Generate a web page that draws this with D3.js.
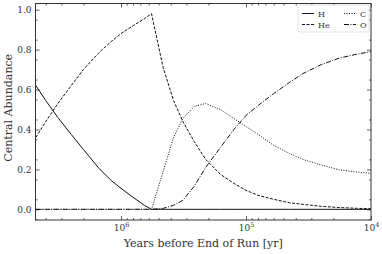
<!DOCTYPE html>
<html>
<head>
<meta charset="utf-8">
<script src="https://cdn.jsdelivr.net/npm/d3@7"></script>
<style>
  html, body { margin: 0; padding: 0; background: #fff; }
  svg text { font-family: "DejaVu Serif", "Liberation Serif", serif; }
</style>
</head>
<body>
<div id="chart"></div>
<script>
// Data (years before end of run, central abundances)
const years = [4.8e6, 4.0e6, 3.2e6, 2.5e6, 2.0e6, 1.5e6, 1.2e6, 1.0e6, 8.0e5, 6.5e5, 5.7e5,
  4.6e5, 3.8e5, 3.2e5, 2.6e5, 2.1e5, 1.6e5, 1.25e5, 1.0e5, 8.0e4, 6.0e4, 4.5e4, 3.5e4,
  2.5e4, 1.8e4, 1.3e4, 1.0e4]
const hydrogen = [0.62, 0.545, 0.46, 0.375, 0.30, 0.205, 0.145, 0.105, 0.06, 0.02, 0,
  0, 0, 0, 0, 0, 0, 0, 0, 0, 0, 0, 0, 0, 0, 0, 0]
const helium = [0.36, 0.44, 0.53, 0.62, 0.70, 0.785, 0.84, 0.88, 0.92, 0.955, 0.98,
  0.71, 0.545, 0.44, 0.34, 0.25, 0.175, 0.13, 0.095, 0.07, 0.05, 0.033, 0.025,
  0.015, 0.009, 0.005, 0.003]
const carbon = [0, 0, 0, 0, 0, 0, 0, 0, 0, 0, 0,
  0.19, 0.36, 0.455, 0.515, 0.53, 0.50, 0.455, 0.415, 0.375, 0.32, 0.28, 0.25,
  0.222, 0.198, 0.187, 0.18]
const oxygen = [0, 0, 0, 0, 0, 0, 0, 0, 0, 0, 0,
  0.005, 0.02, 0.045, 0.115, 0.21, 0.31, 0.40, 0.47, 0.52, 0.58, 0.635, 0.68,
  0.725, 0.757, 0.777, 0.79]

const seriesNames = ['H', 'He', 'C', 'O']
const seriesValues = [hydrogen, helium, carbon, oxygen]
const seriesDash = [null, '3,1.5', '1,1.5', '5,1.5,1,1.5']

const xMajor = [1e6, 1e5, 1e4]
const yMajor = [0, 0.2, 0.4, 0.6, 0.8, 1.0]

// Layout
const width = 382
const height = 254
const margin = { top: 3.5, right: 11, bottom: 34, left: 35.5 }
const innerW = width - margin.left - margin.right
const innerH = height - margin.top - margin.bottom
const ink = '#333'

const svg = d3.select('#chart')
  .append('svg')
    .attr('width', width)
    .attr('height', height)

const g = svg.append('g')
    .attr('transform', `translate(${margin.left},${margin.top})`)

// Scales (x reversed: older on the left)
const x = d3.scaleLog().domain([4.83e6, 1e4]).range([0, innerW])
const y = d3.scaleLinear().domain([-0.0535, 1.031]).range([innerH, 0])

// Minor ticks
const xMinor = []
;[1e4, 1e5, 1e6].forEach(d => {
  for (let k = 2; k <= 9; k++) {
    const v = k * d
    if (v <= 4.83e6) xMinor.push(v)
  }
})
const yMinor = d3.range(-0.05, 1.03, 0.05).filter(v => Math.abs(Math.round(v * 10) / 10 - v) > 1e-6)

const styleAxis = sel => {
  sel.select('.domain').remove()
  sel.attr('font-family', null)
  sel.selectAll('line').attr('stroke', ink).attr('stroke-width', 0.8)
}

// bottom
g.append('g').attr('transform', `translate(0,${innerH})`)
  .call(d3.axisBottom(x).tickValues(xMinor).tickSize(-2).tickFormat(''))
  .call(styleAxis)
const xb = g.append('g').attr('transform', `translate(0,${innerH})`)
  .call(d3.axisBottom(x).tickValues(xMajor).tickSize(-4).tickPadding(5))
  .call(styleAxis)
xb.selectAll('text').each(function (d) {
  const t = d3.select(this).text('')
    .attr('fill', ink).attr('font-size', 9)
  t.append('tspan').text('10')
  t.append('tspan').text(Math.round(Math.log10(d))).attr('font-size', 6.5).attr('dy', -4)
})
// top
g.append('g')
  .call(d3.axisTop(x).tickValues(xMinor).tickSize(-2).tickFormat(''))
  .call(styleAxis)
g.append('g')
  .call(d3.axisTop(x).tickValues(xMajor).tickSize(-4).tickFormat(''))
  .call(styleAxis)
// left
g.append('g')
  .call(d3.axisLeft(y).tickValues(yMinor).tickSize(-2).tickFormat(''))
  .call(styleAxis)
g.append('g')
  .call(d3.axisLeft(y).tickValues(yMajor).tickSize(-4).tickPadding(4).tickFormat(d3.format('.1f')))
  .call(styleAxis)
  .call(s => s.selectAll('text').attr('fill', ink).attr('font-size', 9))
// right
g.append('g').attr('transform', `translate(${innerW},0)`)
  .call(d3.axisRight(y).tickValues(yMinor).tickSize(-2).tickFormat(''))
  .call(styleAxis)
g.append('g').attr('transform', `translate(${innerW},0)`)
  .call(d3.axisRight(y).tickValues(yMajor).tickSize(-4).tickFormat(''))
  .call(styleAxis)

// Lines
const line = d3.line()
  .x((d, i) => x(years[i]))
  .y(d => y(d))

const lines = g.append('g')
seriesValues.forEach((vals, j) => {
  lines.append('path')
    .datum(vals)
    .attr('d', line)
    .attr('fill', 'none')
    .attr('stroke', '#111')
    .attr('stroke-width', 1)
    .attr('stroke-dasharray', seriesDash[j])
})

// Frame
g.append('rect')
  .attr('width', innerW)
  .attr('height', innerH)
  .attr('fill', 'none')
  .attr('stroke', ink)
  .attr('stroke-width', 1)

// Axis titles
svg.append('text')
  .attr('x', margin.left + innerW / 2)
  .attr('y', 247)
  .attr('text-anchor', 'middle')
  .attr('font-size', 11)
  .attr('fill', ink)
  .text('Years before End of Run [yr]')

svg.append('text')
  .attr('transform', `translate(12,${margin.top + innerH / 2 - 4}) rotate(-90)`)
  .attr('text-anchor', 'middle')
  .attr('font-size', 11)
  .attr('fill', ink)
  .text('Central Abundance')

// Legend
const legend = g.append('g').attr('transform', `translate(${innerW - 73},1.5)`)
legend.append('rect')
  .attr('width', 71)
  .attr('height', 27)
  .attr('rx', 2)
  .attr('fill', '#fff')
  .attr('fill-opacity', 0.85)
  .attr('stroke', '#ddd')
  .attr('stroke-width', 0.8)

const legendPos = [[4, 8.5], [4, 19.5], [46, 8.5], [46, 19.5]]
seriesNames.forEach((name, j) => {
  const [lx, ly] = legendPos[j]
  legend.append('line')
    .attr('x1', lx).attr('x2', lx + 12)
    .attr('y1', ly).attr('y2', ly)
    .attr('stroke', '#111')
    .attr('stroke-width', 1)
    .attr('stroke-dasharray', seriesDash[j])
  legend.append('text')
    .attr('x', lx + 16)
    .attr('y', ly + 3)
    .attr('font-size', 8)
    .attr('fill', ink)
    .text(name)
})
</script>
</body>
</html>
